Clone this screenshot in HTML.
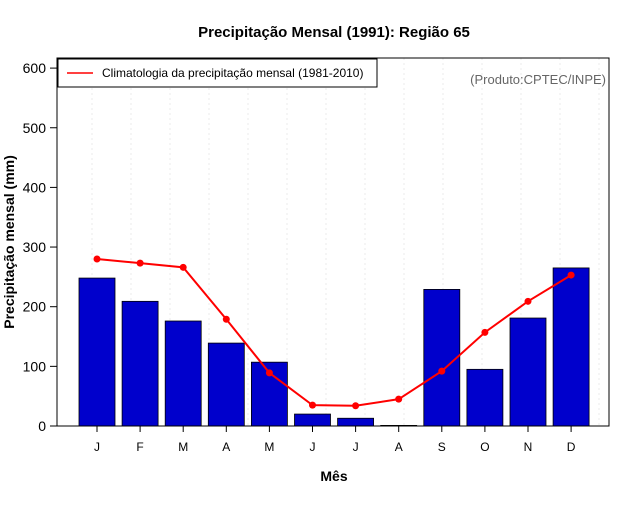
<!DOCTYPE html>
<html><head><meta charset="utf-8"><style>
body{margin:0;background:#fff;font-family:"Liberation Sans",sans-serif}
</style></head><body>
<svg width="640" height="500" xmlns="http://www.w3.org/2000/svg" font-family="Liberation Sans, sans-serif">
<rect width="640" height="500" fill="#fff"/>
<text x="334" y="37" text-anchor="middle" font-size="15" font-weight="bold">Precipitação Mensal (1991): Região 65</text>
<g id="grid"></g>
<g id="bars"></g>
<g id="line"></g>
<rect x="57" y="58" width="552" height="368" fill="none" stroke="#000"/>
<g id="yaxis"></g>
<g id="xaxis"></g>
<text x="334" y="481" text-anchor="middle" font-size="14" font-weight="bold">Mês</text>
<text transform="translate(14,242) rotate(-90)" text-anchor="middle" font-size="14" font-weight="bold">Precipitação mensal (mm)</text>
<g>
<rect x="58" y="59" width="319" height="28" fill="#fff" stroke="#000"/>
<line x1="67" y1="73" x2="93" y2="73" stroke="red" stroke-width="1.5"/>
<text x="102" y="77" font-size="12">Climatologia da precipitação mensal (1981-2010)</text>
</g>
<text x="606" y="84" text-anchor="end" font-size="13" fill="#666">(Produto:CPTEC/INPE)</text>
</svg>
<script>
const months=["J","F","M","A","M","J","J","A","S","O","N","D"];
const observed=[248,209,176,139,107,20,13,1,229,95,181,265];
const climatology=[280,273,266,179,89,35,34,45,92,157,209,253];
const yTicks=[0,100,200,300,400,500,600];
const NS="http://www.w3.org/2000/svg";
const y=v=>426-v*0.5965;
const x=i=>97+i*43.1;
function mk(t,a,p){const e=document.createElementNS(NS,t);for(const k in a)e.setAttribute(k,a[k]);p.appendChild(e);return e;}
const grid=document.getElementById('grid');
for(let gx=92;gx<609;gx+=39){const l=mk('line',{x1:gx,x2:gx,y1:58,y2:426,stroke:'#ebebeb','stroke-dasharray':'2,3'},grid);

}
const bars=document.getElementById('bars');
observed.forEach((v,i)=>{const r=mk('rect',{x:x(i)-18,y:y(v),width:36,height:426-y(v),fill:'#0000cc',stroke:'#000','stroke-width':0.8},bars);

});
const lg=document.getElementById('line');
const pl=mk('polyline',{points:climatology.map((v,i)=>x(i)+','+y(v)).join(' '),fill:'none',stroke:'red','stroke-width':2},lg);


climatology.forEach((v,i)=>{const c=mk('circle',{cx:x(i),cy:y(v),r:3.5,fill:'red'},lg);

});
const ya=document.getElementById('yaxis');
yTicks.forEach(t=>{mk('line',{x1:50,x2:57,y1:y(t),y2:y(t),stroke:'#000'},ya);
const tx=mk('text',{x:46,y:y(t)+5,'text-anchor':'end','font-size':14},ya);tx.textContent=t;

});
const xa=document.getElementById('xaxis');
months.forEach((m,i)=>{mk('line',{x1:x(i),x2:x(i),y1:426,y2:432,stroke:'#000'},xa);
const tx=mk('text',{x:x(i),y:451,'text-anchor':'middle','font-size':12},xa);tx.textContent=m;

});
</script>
</body></html>
